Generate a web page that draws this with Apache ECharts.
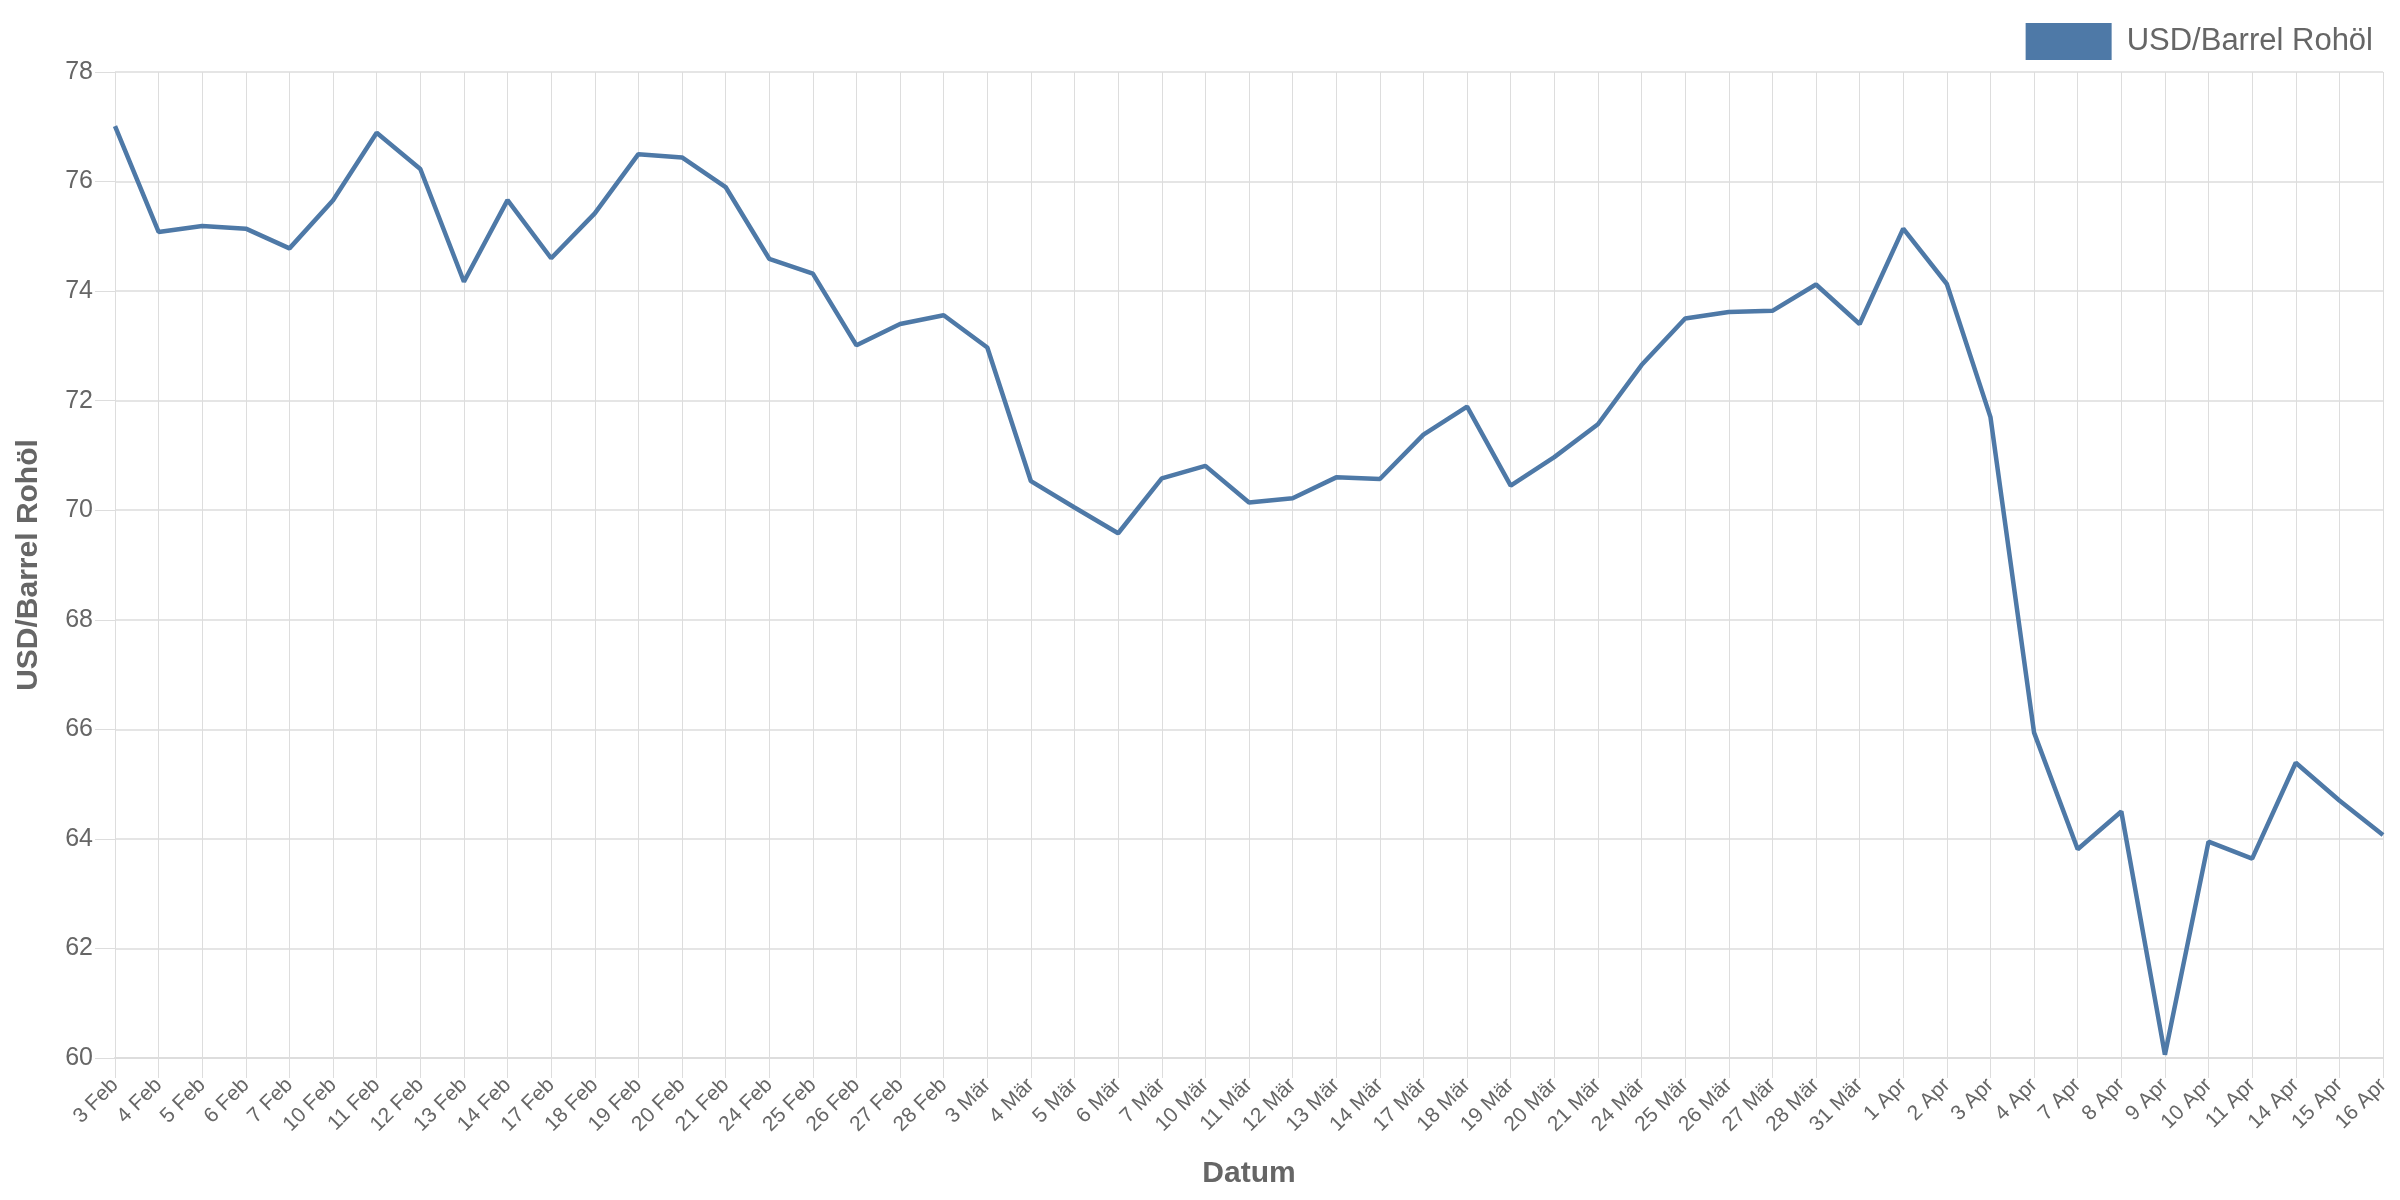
<!DOCTYPE html>
<html>
<head>
<meta charset="utf-8">
<script src="https://cdn.jsdelivr.net/npm/echarts@6/dist/echarts.min.js"></script>
<style>
html,body{margin:0;padding:0;background:#fff;}
#chart{width:2400px;height:1200px;}
</style>
</head>
<body>
<div id="chart"></div>
<script>
const categories = [
  '3 Feb','4 Feb','5 Feb','6 Feb','7 Feb','10 Feb','11 Feb','12 Feb','13 Feb','14 Feb',
  '17 Feb','18 Feb','19 Feb','20 Feb','21 Feb','24 Feb','25 Feb','26 Feb','27 Feb','28 Feb',
  '3 Mär','4 Mär','5 Mär','6 Mär','7 Mär','10 Mär','11 Mär','12 Mär','13 Mär','14 Mär',
  '17 Mär','18 Mär','19 Mär','20 Mär','21 Mär','24 Mär','25 Mär','26 Mär','27 Mär','28 Mär','31 Mär',
  '1 Apr','2 Apr','3 Apr','4 Apr','7 Apr','8 Apr','9 Apr','10 Apr','11 Apr','14 Apr','15 Apr','16 Apr'
];
const oilPrice = [
  77.01, 75.08, 75.19, 75.14, 74.78, 75.66, 76.89, 76.23, 74.17, 75.66,
  74.60, 75.42, 76.50, 76.44, 75.90, 74.59, 74.32, 73.01, 73.40, 73.56,
  72.97, 70.53, 70.05, 69.58, 70.58, 70.81, 70.14, 70.22, 70.60, 70.57,
  71.38, 71.89, 70.45, 70.97, 71.57, 72.65, 73.50, 73.62, 73.64, 74.12, 73.40,
  75.14, 74.13, 71.70, 65.94, 63.81, 64.50, 60.06, 63.95, 63.64, 65.39, 64.70, 64.07
];
const seriesName = 'USD/Barrel Rohöl';
const xTitle = 'Datum';
const yTitle = 'USD/Barrel Rohöl';
const yMin = 60, yMax = 78, yStep = 2;

const FONT = "'Liberation Sans', Arial, sans-serif";
const GRID = '#dddddd';
const TEXT = '#666666';
const BLUE = '#4e79a7';

const chart = echarts.init(document.getElementById('chart'));
chart.setOption({
  animation: false,
  textStyle: { fontFamily: FONT },
  legend: {
    data: [seriesName],
    right: 22,
    top: 18,
    icon: 'rect',
    itemWidth: 86,
    itemHeight: 37,
    textStyle: { fontSize: 31, color: TEXT, fontFamily: FONT, padding: [0, 0, 0, 10] }
  },
  grid: { left: 115, right: 17, top: 72, bottom: 142, containLabel: false, outerBoundsMode: 'none' },
  xAxis: {
    type: 'category',
    data: categories,
    boundaryGap: false,
    name: xTitle,
    nameLocation: 'middle',
    nameGap: 101,
    nameTextStyle: { fontSize: 30, fontWeight: 'bold', color: TEXT, fontFamily: FONT },
    axisLine: { show: true, lineStyle: { color: GRID, width: 2 } },
    axisTick: { show: true, length: 20, interval: 0, lineStyle: { color: GRID, width: 1 } },
    axisLabel: { interval: 0, rotate: 45, fontSize: 21, color: TEXT, margin: 24, fontFamily: FONT },
    splitLine: { show: true, interval: 0, lineStyle: { color: GRID, width: 1 } }
  },
  yAxis: {
    type: 'value',
    min: yMin,
    max: yMax,
    interval: yStep,
    name: yTitle,
    nameLocation: 'middle',
    nameGap: 71,
    nameRotate: 90,
    nameTextStyle: { fontSize: 30, fontWeight: 'bold', color: TEXT, fontFamily: FONT },
    axisLine: { show: false },
    axisTick: { show: true, length: 20, lineStyle: { color: GRID, width: 1 } },
    axisLabel: { fontSize: 25, color: TEXT, margin: 22, fontFamily: FONT },
    splitLine: { show: true, lineStyle: { color: GRID, width: 1.5 } }
  },
  series: [{
    name: seriesName,
    type: 'line',
    data: oilPrice,
    showSymbol: false,
    symbol: 'none',
    itemStyle: { color: BLUE },
    lineStyle: { color: BLUE, width: 4.5 }
  }]
});
</script>
</body>
</html>
